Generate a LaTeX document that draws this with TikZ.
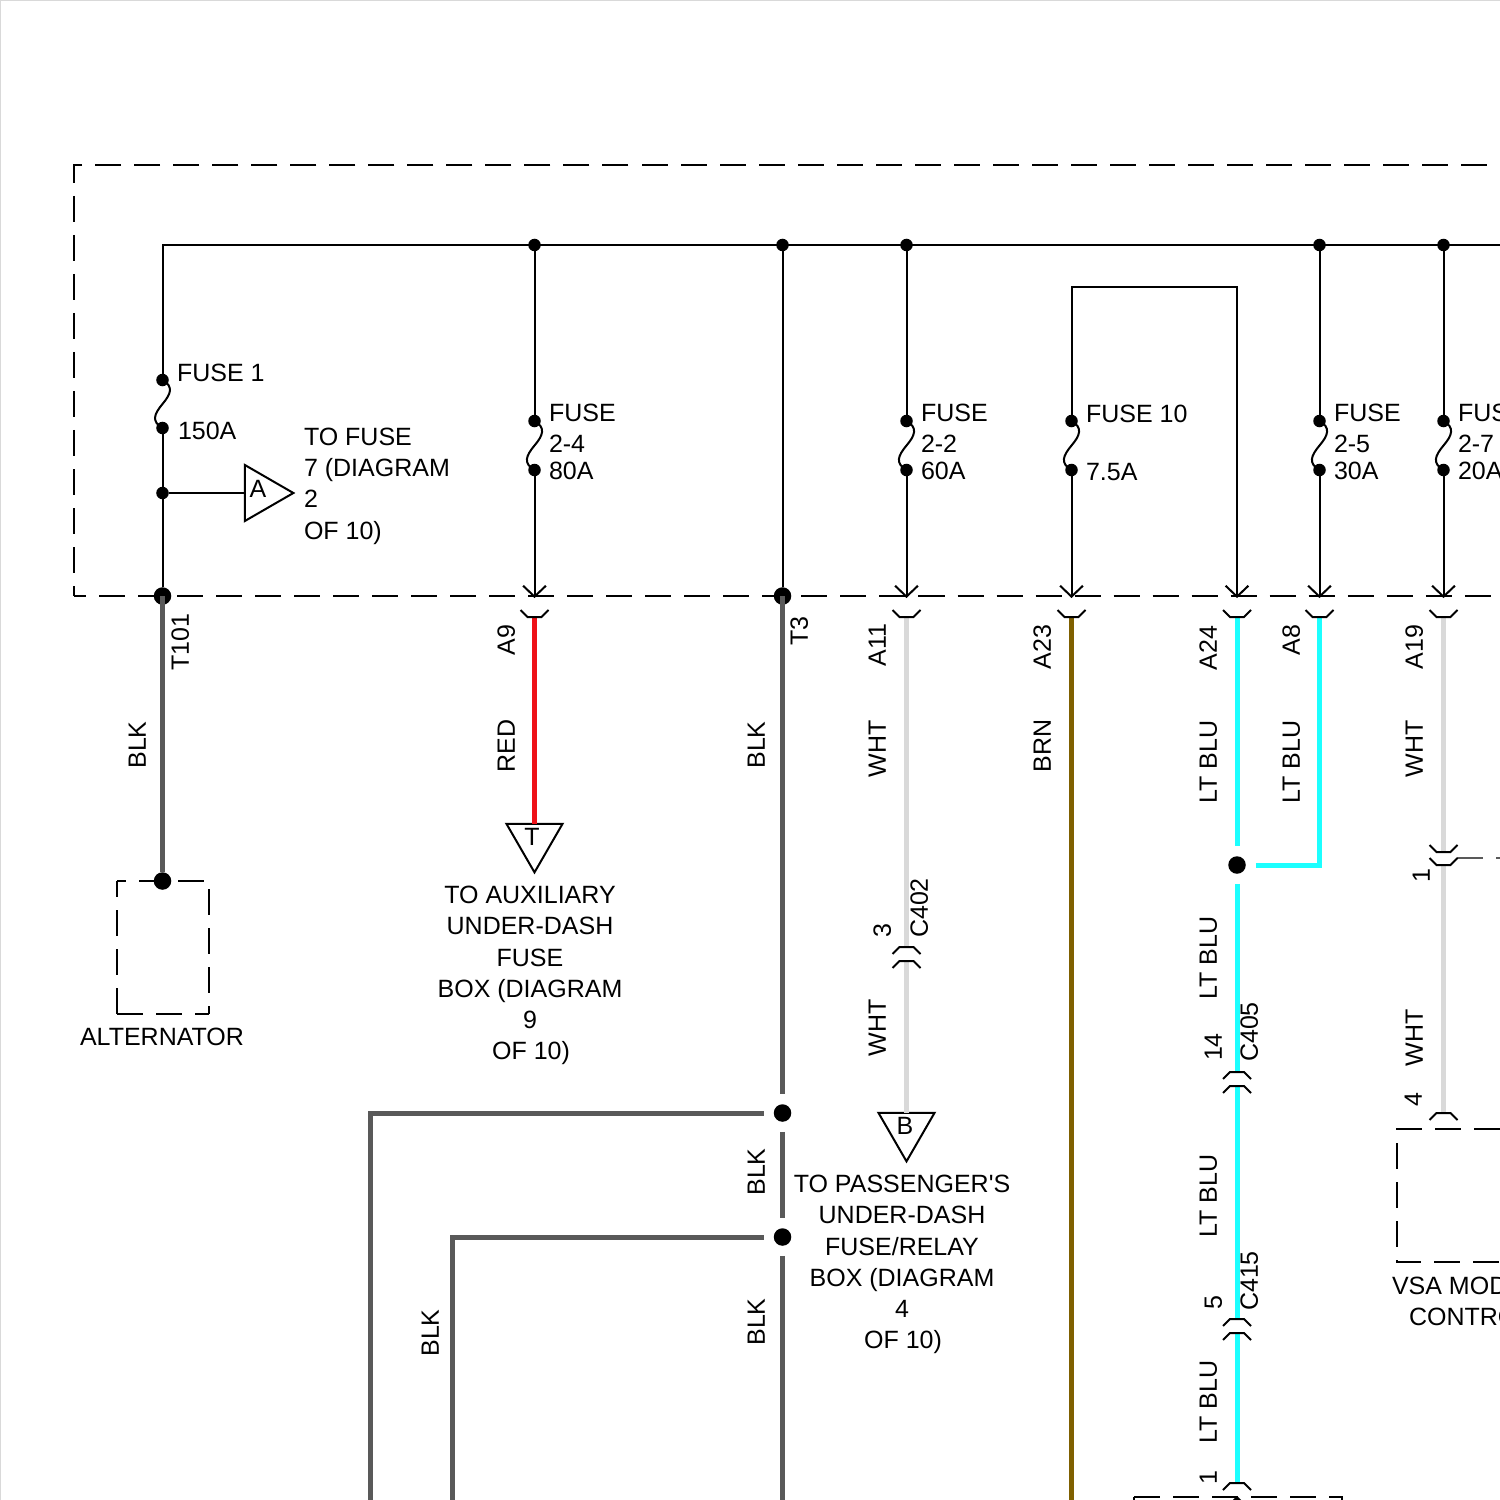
\documentclass[tikz,border=0pt]{standalone}
\usepackage{fontspec}
\setmainfont{Liberation Sans}[Ligatures=TeXOff]
\usetikzlibrary{arrows.meta, calc, positioning, shapes.geometric}

\definecolor{blkwire}{HTML}{595959}
\definecolor{redwire}{HTML}{EE1118}
\definecolor{whtwire}{HTML}{D9D9D9}
\definecolor{brnwire}{HTML}{7F6000}
\definecolor{bluwire}{HTML}{1CFFFF}

\tikzset{
    lab/.style={inner sep=0pt, outer sep=0pt, text height=0.18cm, text depth=0pt,
        yshift=-0.005cm, font=\fontsize{7.11pt}{8.82pt}\selectfont},
    vlab/.style={lab, xshift=-0.012cm, yshift=0.005cm, rotate=90},
    block/.style={inner sep=0pt, outer sep=0pt, anchor=north, align=center, yshift=-0.005cm,
        font=\fontsize{7.11pt}{8.82pt}\selectfont},
    junc/.style={circle, fill=black, inner sep=0pt, outer sep=0pt, minimum size=0.125cm},
    bigjunc/.style={junc, minimum size=0.175cm},
    tria/.style={draw, regular polygon, regular polygon sides=3, inner sep=0pt,
        outer sep=0pt, minimum size=0.647cm},
    frame/.style={draw, dash pattern=on 0.26cm off 0.13cm},
    thickwire/.style={line width=0.05cm},
    gapped/.style={shorten <=0.1cm, shorten >=0.1cm},
    cupmark/.pic={\draw (-14,-7) -- (-7,0) -- (7,0) -- (14,-7);}
}

\newcommand{\fuselink}[2]{
    \draw (#1.center) to [out=-30,in=50,looseness=1.4] ($(#1)!.5!(#2)$)
        to [out=230,in=150,looseness=1.4] (#2.center);
}

\begin{document}
\begin{tikzpicture}[
            x=0.01cm,
            y=-0.01cm,
            line width=0.02cm,
            >={Straight Barb[length=3.1pt,width=6.5pt]}]
            \useasboundingbox (0,0) rectangle (1500,1500);
            \draw [whtwire] (0,1500) -- (0,0) -- (1500,0);

            \coordinate (busl) at (162.5,245);
            \coordinate (busr) at (1530,245);
            \coordinate (toploop) at (1071.5,287);
            \coordinate (toploopr) at (1237,287);
            \coordinate (a9a) at (534.5,598);
            \coordinate (a11a) at (906.5,598);
            \coordinate (a23a) at (1071.5,598);
            \coordinate (a24a) at (1237,598);
            \coordinate (a8a) at (1319.5,598);
            \coordinate (a19a) at (1443.5,598);
            \coordinate (a9c) at (534.5,617);
            \coordinate (a11c) at (906.5,617);
            \coordinate (a23c) at (1071.5,617);
            \coordinate (a24c) at (1237,617);
            \coordinate (a8c) at (1319.5,617);
            \coordinate (a19c) at (1443.5,617);
            \coordinate (c402a) at (906.5,947);
            \coordinate (c402b) at (906.5,961);
            \coordinate (c405a) at (1237,1072);
            \coordinate (c405b) at (1237,1086);
            \coordinate (c415a) at (1237,1319);
            \coordinate (c415b) at (1237,1333);
            \coordinate (vsaa) at (1443.5,852);
            \coordinate (vsab) at (1443.5,865);
            \coordinate (vsac) at (1443.5,1113);
            \coordinate (botc) at (1237,1483);
            \coordinate (bota) at (1237,1496);
            \coordinate (botb) at (1237,1540);
            \coordinate (blkend) at (782.5,1530);
            \coordinate (brnend) at (1071.5,1530);
            \coordinate (outera) at (370,1113);
            \coordinate (outerb) at (370,1530);
            \coordinate (innera) at (452,1237);
            \coordinate (innerb) at (452,1530);
            \coordinate (branch) at (1319.5,865);
            \coordinate (thina) at (1457,858);
            \coordinate (thinb) at (1483,858);
            \coordinate (thinc) at (1496,858);
            \coordinate (thind) at (1510,858);

            \draw [frame] (1526,165) -- (74,165) -- (74,596);
            \draw [frame, dash phase=0.14cm] (74,596) -- (1526,596);
            \draw [frame, dash phase=0.17cm] (117,881) -- (209,881) -- (209,1014);
            \draw [frame] (117,1014) -- (209,1014);
            \draw [frame] (117,1014) -- (117,881);
            \draw [frame] (1539,1129) -- (1397,1129) -- (1397,1262) -- (1539,1262);
            \draw [frame] (1134,1497) -- (1342,1497) -- (1342,1600);
            \draw [frame] (1134,1497) -- (1134,1600);

            \node [junc] (bus1) at (534.5,245) {};
            \node [junc] (bus2) at (782.5,245) {};
            \node [junc] (bus3) at (906.5,245) {};
            \node [junc] (bus4) at (1319.5,245) {};
            \node [junc] (bus5) at (1443.5,245) {};
            \node [junc] (f1a) at (162.5,380) {};
            \node [junc] (f1b) at (162.5,428) {};
            \node [junc] (spl) at (162.5,493) {};
            \node [bigjunc] (t101) at (162.5,596) {};
            \node [bigjunc] (t3) at (782.5,596) {};
            \node [junc] (f24a) at (534.5,421) {};
            \node [junc] (f24b) at (534.5,470) {};
            \node [junc] (f22a) at (906.5,421) {};
            \node [junc] (f22b) at (906.5,470) {};
            \node [junc] (f10a) at (1071.5,421) {};
            \node [junc] (f10b) at (1071.5,470) {};
            \node [junc] (f25a) at (1319.5,421) {};
            \node [junc] (f25b) at (1319.5,470) {};
            \node [junc] (f27a) at (1443.5,421) {};
            \node [junc] (f27b) at (1443.5,470) {};
            \node [bigjunc] (alt) at (162.5,881) {};
            \node [bigjunc] (j1) at (782.5,1113) {};
            \node [bigjunc] (j2) at (782.5,1237) {};
            \node [bigjunc] (j3) at (1237,865) {};
            \node [tria, shape border rotate=-90] (tria) at (261,493) {};
            \node [tria, shape border rotate=180] (trit) at (534.5,840) {};
            \node [tria, shape border rotate=180] (trib) at (906.5,1129) {};

            \draw (t101) -- (spl) -- (f1b);
            \draw (f1a) -- (busl) -- (busr);
            \draw (spl) -- (tria);
            \draw (bus1) -- (f24a);
            \draw (bus2) -- (t3);
            \draw (bus3) -- (f22a);
            \draw (bus4) -- (f25a);
            \draw (bus5) -- (f27a);
            \draw (f10a) -- (toploop) -- (toploopr) [->] -- (a24a);
            \draw [->] (f24b) -- (a9a);
            \draw [->] (f22b) -- (a11a);
            \draw [->] (f10b) -- (a23a);
            \draw [->] (f25b) -- (a8a);
            \draw [->] (f27b) -- (a19a);
            \draw [->] (botb) -- (bota);
            \fuselink{f1a}{f1b}
            \fuselink{f24a}{f24b}
            \fuselink{f22a}{f22b}
            \fuselink{f10a}{f10b}
            \fuselink{f25a}{f25b}
            \fuselink{f27a}{f27b}

            \draw [thickwire, blkwire] (t101.center) -- (alt);
            \draw [thickwire, blkwire, shorten >=0.1cm] (t3.center) -- (j1);
            \draw [thickwire, blkwire, gapped] (j1) -- (j2);
            \draw [thickwire, blkwire, shorten <=0.1cm] (j2) -- (blkend);
            \draw [thickwire, blkwire, shorten <=0.1cm] (j1) -- (outera) -- (outerb);
            \draw [thickwire, blkwire, shorten <=0.1cm] (j2) -- (innera) -- (innerb);
            \draw [thickwire, redwire] (a9c) -- (trit);
            \draw [thickwire, whtwire] (a11c) -- (c402a);
            \draw [thickwire, whtwire] (c402b) -- (trib);
            \draw [thickwire, brnwire] (a23c) -- (brnend);
            \draw [thickwire, bluwire, shorten >=0.1cm] (a24c) -- (j3);
            \draw [thickwire, bluwire, shorten <=0.1cm] (j3) -- (c405a);
            \draw [thickwire, bluwire, shorten <=0.1cm] (j3) -- (branch) -- (a8c);
            \draw [thickwire, bluwire] (c405b) -- (c415a);
            \draw [thickwire, bluwire] (c415b) -- (botc);
            \draw [thickwire, whtwire] (a19c) -- (vsaa);
            \draw [thickwire, whtwire] (vsab) -- (vsac);
            \draw [blkwire] (thina) -- (thinb);
            \draw [blkwire] (thinc) -- (thind);

            \pic at (a9c) {cupmark};
            \pic at (a11c) {cupmark};
            \pic at (a23c) {cupmark};
            \pic at (a24c) {cupmark};
            \pic at (a8c) {cupmark};
            \pic at (a19c) {cupmark};
            \pic at (vsaa) {cupmark};
            \pic at (vsab) {cupmark};
            \pic [rotate=180] at (c402a) {cupmark};
            \pic [rotate=180] at (c402b) {cupmark};
            \pic [rotate=180] at (c405a) {cupmark};
            \pic [rotate=180] at (c405b) {cupmark};
            \pic [rotate=180] at (c415a) {cupmark};
            \pic [rotate=180] at (c415b) {cupmark};
            \pic [rotate=180] at (vsac) {cupmark};
            \pic [rotate=180] at (botc) {cupmark};

            \node [lab] (taga) at (258,488) {A};
            \node [lab] (tagt) at (532,836) {T};
            \node [lab] (tagb) at (905,1125) {B};

            \node [lab, anchor=west] (fuse1) at (177,372) {FUSE 1};
            \node [lab, anchor=west] (amp1) at (178,430) {150A};
            \node [block, anchor=north west, align=left] (tofuse) at (304,428) {TO FUSE\\7 (DIAGRAM\\2\\OF 10)};
            \node [block, anchor=north west, align=left] (name24) at (549,404) {FUSE\\[-0.2pt]2-4};
            \node [lab, anchor=west] (amp24) at (549,470) {80A};
            \node [block, anchor=north west, align=left] (name22) at (921,404) {FUSE\\[-0.2pt]2-2};
            \node [lab, anchor=west] (amp22) at (921,470) {60A};
            \node [lab, anchor=west] (fuse10) at (1086,413) {FUSE 10};
            \node [lab, anchor=west] (amp10) at (1086,471) {7.5A};
            \node [block, anchor=north west, align=left] (name25) at (1334,404) {FUSE\\[-0.2pt]2-5};
            \node [lab, anchor=west] (amp25) at (1334,470) {30A};
            \node [block, anchor=north west, align=left] (name27) at (1458,404) {FUS\\[-0.2pt]2-7};
            \node [lab, anchor=west] (amp27) at (1458,470) {20A};
            \node [lab] (altname) at (162,1036) {ALTERNATOR};
            \node [block] (toaux) at (530,886) {TO AUXILIARY\\UNDER-DASH\\FUSE\\BOX (DIAGRAM\\9\\\hspace{0.02cm}OF 10)};
            \node [block] (topass) at (902,1175) {TO PASSENGER'S\\UNDER-DASH\\FUSE/RELAY\\BOX (DIAGRAM\\4\\\hspace{0.02cm}OF 10)};
            \node [lab, anchor=west] (vsaname) at (1392,1285) {VSA MOD};
            \node [lab, anchor=west] (vsactrl) at (1409,1316) {CONTRO};

            \node [vlab] (lt101) at (181,642) {T101};
            \node [vlab] (lblk1) at (138,745) {BLK};
            \node [vlab] (la9) at (507,640) {A9};
            \node [vlab] (lred) at (507,746) {RED};
            \node [vlab] (lt3) at (800,631) {T3};
            \node [vlab] (lblk2) at (757,745) {BLK};
            \node [vlab] (la11) at (878,645) {A11};
            \node [vlab] (lwht1) at (878,749) {WHT};
            \node [vlab] (la23) at (1043,647) {A23};
            \node [vlab] (lbrn) at (1043,746) {BRN};
            \node [vlab] (la24) at (1209,648) {A24};
            \node [vlab] (llt1) at (1209,762) {LT BLU};
            \node [vlab] (la8) at (1292,640) {A8};
            \node [vlab] (llt2) at (1292,762) {LT BLU};
            \node [vlab] (la19) at (1415,647) {A19};
            \node [vlab] (lwht2) at (1415,749) {WHT};
            \node [vlab] (lone1) at (1422,876) {1};
            \node [vlab] (lthree) at (883,931) {3};
            \node [vlab] (lc402) at (920,908) {C402};
            \node [vlab] (lwht3) at (878,1028) {WHT};
            \node [vlab] (lblk3) at (757,1172) {BLK};
            \node [vlab] (lblk4) at (757,1322) {BLK};
            \node [vlab] (lblk5) at (431,1333) {BLK};
            \node [vlab] (llt3) at (1209,958) {LT BLU};
            \node [vlab] (lfourteen) at (1214,1047) {14};
            \node [vlab] (lc405) at (1250,1032) {C405};
            \node [vlab] (llt4) at (1209,1196) {LT BLU};
            \node [vlab] (lfive) at (1214,1303) {5};
            \node [vlab] (lc415) at (1250,1281) {C415};
            \node [vlab] (llt5) at (1209,1402) {LT BLU};
            \node [vlab] (lone2) at (1209,1478) {1};
            \node [vlab] (lwht4) at (1415,1038) {WHT};
            \node [vlab] (lfour) at (1414,1100) {4};
        \end{tikzpicture}
\end{document}
